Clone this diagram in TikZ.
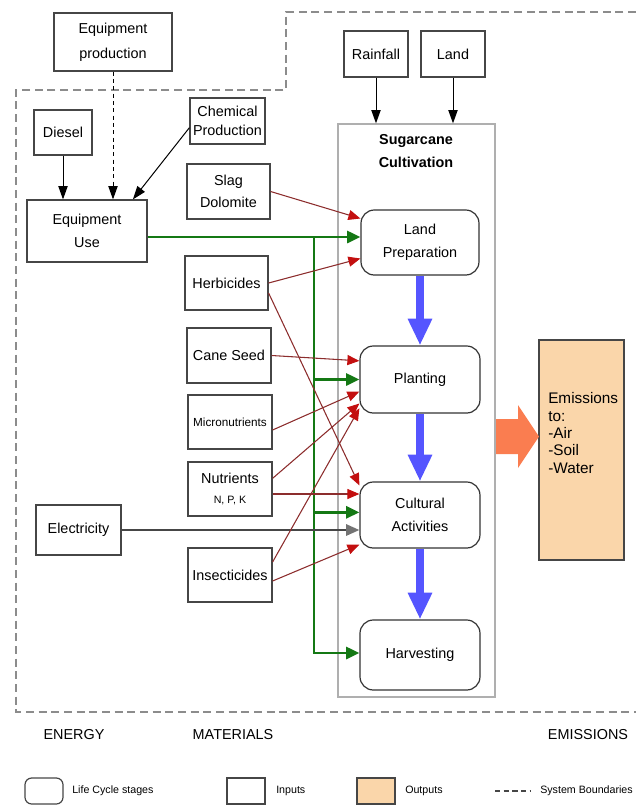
\documentclass[tikz,border=0pt]{standalone}
\usepackage{fontspec}
\setmainfont{Liberation Sans}
\usepackage{xcolor}
\usepackage{tikz}
\usetikzlibrary{positioning,arrows.meta,calc}

\definecolor{boxgray}{RGB}{70,70,70}
\definecolor{framegray}{RGB}{175,175,175}
\definecolor{bordergray}{RGB}{140,140,140}
\definecolor{matred}{RGB}{140,45,45}
\definecolor{tipred}{RGB}{195,15,15}
\definecolor{busgreen}{RGB}{20,120,20}
\definecolor{flowblue}{RGB}{85,85,255}
\definecolor{outpeach}{RGB}{250,214,170}
\definecolor{arroworange}{RGB}{250,125,80}
\definecolor{tipgray}{RGB}{115,115,115}

\newcommand\boxfont{\fontsize{10.8pt}{17pt}\selectfont}
\newcommand\legfont{\fontsize{8pt}{9pt}\selectfont}

\begin{document}
\begin{tikzpicture}[x=0.75pt,y=-0.75pt,
  inbox/.style={draw=boxgray,line width=0.9pt,align=center,inner sep=1pt,minimum width=63pt,minimum height=40.5pt,font=\boxfont},
  stage/.style={inbox,draw=black!80,rounded corners=10pt,minimum width=90pt,minimum height=50pt},
  feedline/.style={draw=black,line width=0.75pt,-{Triangle[length=10pt,width=7pt]}},
  matline/.style={draw=matred,line width=0.8pt,-{Triangle[length=9pt,width=7.5pt,color=tipred]}},
  busline/.style={draw=busgreen,line width=2.2pt,-{Triangle[length=10pt,width=9pt]}},
  stageflow/.style={draw=flowblue,line width=6pt,-{Triangle[length=20pt,width=17pt]}},
  boundary/.style={draw=bordergray,line width=0.8pt,dash pattern=on 6pt off 3.5pt}]
  \useasboundingbox (0,0) rectangle (636,808);

  % system boundary
  \draw[boundary] (636,12) -- (286,12) -- (286,90) -- (16,90) -- (16,712) -- (636,712);

  % sugarcane cultivation frame
  \node[draw=framegray,line width=1pt,minimum width=117.75pt,minimum height=429.75pt] (cultiv) at (416.5,410.5) {};
  \node[font=\boxfont\bfseries,align=center] (cultivtitle) at (416,151) {Sugarcane\\Cultivation};

  % inputs
  \node[inbox,minimum width=88.5pt,minimum height=43.5pt] (eqprod) at (113,42) {Equipment\\[2pt]production};
  \node[inbox,minimum width=43.5pt,minimum height=33.75pt] (diesel) at (63,132.5) {Diesel};
  \node[inbox,minimum width=56.25pt,minimum height=34.5pt,inner sep=0pt] (chemprod) at (227.5,121) {Chemical\\[-3pt]Production};
  \node[inbox,minimum width=90pt,minimum height=46.5pt] (equse) at (87,231) {Equipment\\Use};
  \node[inbox,minimum width=62.25pt,minimum height=41.25pt] (slag) at (228.5,191.5) {Slag\\Dolomite};
  \node[inbox,minimum width=62.25pt] (herb) at (226.5,283) {Herbicides};
  \node[inbox,minimum height=41.25pt] (seed) at (229,355.5) {Cane Seed};
  \node[inbox,font=\fontsize{8.8pt}{10pt}\selectfont] (micro) at (230,422) {Micronutrients};
  \node[inbox] (nutr) at (230,489) {Nutrients\\[-2pt]{\legfont N, P, K}};
  \node[inbox,minimum width=63.75pt,minimum height=37.5pt] (elec) at (78.5,530) {Electricity};
  \node[inbox] (insect) at (230,575) {Insecticides};
  \node[inbox,minimum width=48pt,minimum height=34.5pt] (rain) at (376,54) {Rainfall};
  \node[inbox,minimum width=48pt,minimum height=34.5pt] (land) at (453,54) {Land};

  % life cycle stages
  \node[stage,minimum width=88.5pt,minimum height=48.75pt] (landprep) at (420,242.5) {Land\\Preparation};
  \node[stage,minimum height=50.25pt] (planting) at (420,379.5) {Planting};
  \node[stage,minimum height=49.5pt] (cultural) at (420,515) {Cultural\\Activities};
  \node[stage,minimum height=52.5pt] (harvest) at (420,655) {Harvesting};

  % outputs
  \node[draw=boxgray,fill=outpeach,line width=0.9pt,minimum width=63.75pt,minimum height=165pt] (emis) at (581.5,450) {};
  \node[font=\fontsize{11.5pt}{13pt}\selectfont,align=left,anchor=west,inner sep=0pt] (emistxt) at (548,433) {Emissions\\to:\\-Air\\-Soil\\-Water};
  \fill[arroworange] (496,419) -- (518,419) -- (518,405) -- (539,436.5) -- (518,468) -- (518,454) -- (496,454) -- cycle;

  % energy and equipment
  \draw[feedline] (diesel.south) -- (diesel.south |- equse.north);
  \draw[feedline,dash pattern=on 3pt off 2.5pt] (eqprod.south) -- (eqprod.south |- equse.north);
  \draw[feedline] ([yshift=-5pt]chemprod.west) -- ([xshift=-11pt]equse.north east);
  \draw[feedline] (rain.south) -- (rain.south |- cultiv.north);
  \draw[feedline] (land.south) -- (land.south |- cultiv.north);

  % equipment bus
  \coordinate (bustop) at (314,237);
  \coordinate (busbot) at (314,653);
  \draw[busline] (equse.east |- bustop) -- (bustop -| landprep.west);
  \draw[busline] (bustop) -- (busbot) -- (busbot -| harvest.west);
  \draw[busline] (bustop |- planting.west) -- (planting.west);
  \draw[busline] ([yshift=2pt]bustop |- cultural.west) -- ([yshift=2pt]cultural.west);

  % electricity
  \draw[draw=boxgray,line width=1.5pt,-{Triangle[length=10pt,width=8.5pt,color=tipgray]}] (elec.east) -- (elec.east -| cultural.west);

  % materials
  \draw[matline] (slag.east) -- ([yshift=18pt]landprep.west);
  \draw[matline] (herb.east) -- ([yshift=-12pt]landprep.west);
  \draw[matline] ([yshift=-7.5pt]herb.east) -- ([yshift=-3pt]cultural.north west);
  \draw[matline] (seed.east) -- ([yshift=14pt]planting.west);
  \draw[matline] ([yshift=-6pt]micro.east) -- ([yshift=-9pt]planting.west);
  \draw[matline] ([yshift=8pt]nutr.east) -- ([yshift=-18pt]planting.west);
  \draw[matline] ([yshift=-3.75pt]nutr.east) -- ([yshift=15.75pt]cultural.west);
  \draw[matline] ([yshift=9.75pt]insect.east) -- ([yshift=4pt]planting.south west);
  \draw[matline] ([yshift=-4.5pt]insect.east) -- ([yshift=3pt]cultural.south west);

  % stage flow
  \draw[stageflow] (landprep.south) -- (planting.north);
  \draw[stageflow] (planting.south) -- (cultural.north);
  \draw[stageflow] (cultural.south) -- (harvest.north);

  % categories
  \node[font=\boxfont] (energy) at (74,735) {ENERGY};
  \node[font=\boxfont] (materials) at (233,735) {MATERIALS};
  \node[font=\boxfont] (emissions) at (588,735) {EMISSIONS};

  % legend
  \node[draw=boxgray,line width=0.9pt,rounded corners=5pt,minimum width=28.5pt,minimum height=19.5pt] (lgstage) at (44,791) {};
  \node[font=\legfont,anchor=west,inner sep=0pt] (lgstagetxt) at (72,791) {Life Cycle stages};
  \node[draw=boxgray,line width=0.9pt,minimum width=28.5pt,minimum height=19.5pt] (lginput) at (246,791) {};
  \node[font=\legfont,anchor=west,inner sep=0pt] (lginputtxt) at (276,791) {Inputs};
  \node[draw=boxgray,fill=outpeach,line width=0.9pt,minimum width=28.5pt,minimum height=19.5pt] (lgoutput) at (376,791) {};
  \node[font=\legfont,anchor=west,inner sep=0pt] (lgoutputtxt) at (405,791) {Outputs};
  \coordinate (lgdasha) at (495,791);
  \coordinate (lgdashb) at (530,791);
  \draw[draw=boxgray,line width=0.8pt,dash pattern=on 4pt off 2.5pt] (lgdasha) -- (lgdashb);
  \node[font=\legfont,anchor=west,inner sep=0pt] (lgboundtxt) at (540,791) {System Boundaries};
\end{tikzpicture}
\end{document}
